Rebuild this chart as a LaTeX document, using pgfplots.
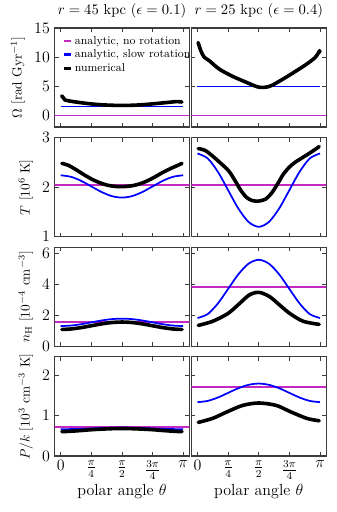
\documentclass[border=0pt]{standalone}
\usepackage{pgfplots}
\pgfplotsset{compat=1.18}
\usepgfplotslibrary{groupplots}
\definecolor{anamag}{RGB}{195,40,195}
\definecolor{anablue}{RGB}{0,0,255}
\definecolor{framegray}{RGB}{60,60,60}

\begin{document}
\begin{tikzpicture}
\begin{groupplot}[
  group style={group size=2 by 4, horizontal sep=1.5pt, vertical sep=7.9pt,
    x descriptions at=edge bottom, y descriptions at=edge left},
  scale only axis, width=101pt, height=74.25pt,
  xmin=-0.157, xmax=3.299,
  xtick={0,0.7854,1.5708,2.3562,3.1416},
  xticklabels={$0$,$\frac{\pi}{4}$,$\frac{\pi}{2}$,$\frac{3\pi}{4}$,$\pi$},
  tick align=inside, tick pos=both, major tick length=3pt,
  tick style={framegray, line width=0.6pt},
  axis line style={framegray, line width=0.9pt},
  ticklabel style={font=\large},
  ylabel style={font=\normalsize},
  xlabel={polar angle $\theta$},
  xlabel style={font=\large, yshift=3pt},
  title style={font=\fontsize{10.8}{12}\selectfont, yshift=-2pt},
  ana/.style={line width=1.3pt},
  num/.style={black, line width=2.7pt, smooth, line join=round, line cap=round},
]
% ---- Omega
\nextgroupplot[ymin=-2, ymax=15, ytick={0,5,10,15},
  ylabel={$\Omega$ [rad Gyr$^{-1}$]},
  title={$r=45$ kpc ($\epsilon=0.1$)},
  legend style={draw=none, fill=none, at={(0.03,0.975)}, anchor=north west,
    font=\fontsize{8.6}{10}\selectfont, cells={anchor=west}, row sep=-1.2pt},
  legend image code/.code={\draw[#1, line width=2pt, line cap=butt] (0pt,0pt) -- (5pt,0pt);}]
\coordinate (TL) at (rel axis cs:0,1);
\addplot[anamag, ana] coordinates {(-0.2,0) (3.4,0)};
\addlegendentry{analytic, no rotation}
\addplot[anablue, ana] coordinates {(0,1.55) (3.1416,1.55)};
\addlegendentry{analytic, slow rotation}
\addplot[num] coordinates {(0.026,3.35) (0.06,3.1) (0.11,2.65) (0.2,2.5) (0.45,2.25) (0.75,2.0) (1.0,1.85) (1.3,1.75) (1.571,1.72) (1.85,1.75) (2.12,1.85) (2.46,2.05) (2.8,2.27) (2.98,2.38) (3.107,2.3)};
\addlegendentry{numerical}

\nextgroupplot[ymin=-2, ymax=15, ytick={0,5,10,15},
  title={$r=25$ kpc ($\epsilon=0.4$)}]
\addplot[anamag, ana] coordinates {(-0.2,0) (3.4,0)};
\addplot[anablue, ana] coordinates {(0,4.95) (3.1416,4.95)};
\addplot[num] coordinates {(0.017,12.5) (0.086,11.1) (0.172,10.0) (0.301,9.4) (0.559,7.95) (0.904,6.7) (1.248,5.7) (1.575,4.85) (1.85,5.0) (2.195,6.25) (2.539,7.67) (2.797,8.8) (3.012,9.9) (3.098,10.7) (3.13,11.1) (3.14,10.9)};

% ---- T
\nextgroupplot[ymin=1, ymax=3, ytick={1,2,3},
  ylabel={$T$ [$10^6$ K]}]
\addplot[anamag, ana] coordinates {(-0.2,2.05) (3.4,2.05)};
\addplot[anablue, ana, smooth] coordinates {(0,2.240) (0.2618,2.210) (0.5236,2.128) (0.7854,2.015) (1.0472,1.903) (1.3090,1.820) (1.5708,1.790) (1.8326,1.820) (2.0944,1.903) (2.3562,2.015) (2.6180,2.128) (2.8798,2.210) (3.1416,2.240)};
\addplot[num] coordinates {(0.03,2.48) (0.2,2.44) (0.4,2.35) (0.6,2.25) (0.8,2.16) (1.0,2.09) (1.2,2.04) (1.4,2.015) (1.57,2.01) (1.8,2.025) (2.0,2.06) (2.2,2.12) (2.4,2.2) (2.6,2.29) (2.8,2.37) (3.0,2.44) (3.11,2.48)};

\nextgroupplot[ymin=1, ymax=3, ytick={1,2,3}]
\addplot[anamag, ana] coordinates {(-0.2,2.05) (3.4,2.05)};
\addplot[anablue, ana, smooth] coordinates {(0,2.680) (0.2618,2.581) (0.5236,2.310) (0.7854,1.940) (1.0472,1.570) (1.3090,1.299) (1.5708,1.200) (1.8326,1.299) (2.0944,1.570) (2.3562,1.940) (2.6180,2.310) (2.8798,2.581) (3.1416,2.680)};
\addplot[num] coordinates {(0.02,2.78) (0.2,2.74) (0.4,2.62) (0.6,2.48) (0.8,2.33) (0.95,2.15) (1.1,1.95) (1.25,1.80) (1.4,1.73) (1.57,1.72) (1.75,1.76) (1.9,1.88) (2.05,2.06) (2.2,2.26) (2.35,2.40) (2.5,2.50) (2.7,2.60) (2.9,2.70) (3.05,2.78) (3.12,2.82)};

% ---- n_H
\nextgroupplot[ymin=0, ymax=6.4, ytick={0,2,4,6},
  ylabel={$n_{\mathrm{H}}$ [$10^{-4}$ cm$^{-3}$]}]
\addplot[anamag, ana] coordinates {(-0.2,1.57) (3.4,1.57)};
\addplot[anablue, ana, smooth] coordinates {(0,1.310) (0.2618,1.342) (0.5236,1.430) (0.7854,1.550) (1.0472,1.670) (1.3090,1.758) (1.5708,1.790) (1.8326,1.758) (2.0944,1.670) (2.3562,1.550) (2.6180,1.430) (2.8798,1.342) (3.1416,1.310)};
\addplot[num] coordinates {(0.03,1.09) (0.2618,1.122) (0.5236,1.21) (0.7854,1.33) (1.0472,1.45) (1.3090,1.538) (1.5708,1.57) (1.8326,1.538) (2.0944,1.45) (2.3562,1.33) (2.6180,1.21) (2.8798,1.122) (3.11,1.09)};

\nextgroupplot[ymin=0, ymax=6.4, ytick={0,2,4,6}]
\addplot[anamag, ana] coordinates {(-0.2,3.82) (3.4,3.82)};
\addplot[anablue, ana, smooth] coordinates {(0,1.830) (0.2618,2.082) (0.5236,2.770) (0.7854,3.710) (1.0472,4.650) (1.3090,5.338) (1.5708,5.590) (1.8326,5.338) (2.0944,4.650) (2.3562,3.710) (2.6180,2.770) (2.8798,2.082) (3.1416,1.830)};
\addplot[num] coordinates {(0.02,1.35) (0.39,1.62) (0.78,2.12) (1.08,2.77) (1.33,3.32) (1.575,3.49) (1.85,3.21) (2.11,2.66) (2.37,2.12) (2.71,1.62) (3.12,1.42)};

% ---- P/k
\nextgroupplot[ymin=0, ymax=2.45, ytick={0,1,2},
  ylabel={$P/k$ [$10^3$ cm$^{-3}$ K]}]
\addplot[anamag, ana] coordinates {(-0.2,0.71) (3.4,0.71)};
\addplot[anablue, ana, smooth] coordinates {(0,0.660) (0.5236,0.670) (1.0472,0.690) (1.5708,0.700) (2.0944,0.690) (2.6180,0.670) (3.1416,0.660)};
\addplot[num] coordinates {(0.03,0.60) (0.4,0.62) (0.8,0.65) (1.2,0.67) (1.57,0.68) (1.95,0.67) (2.35,0.65) (2.75,0.62) (3.11,0.60)};

\nextgroupplot[ymin=0, ymax=2.45, ytick={0,1,2}]
\coordinate (BR) at (rel axis cs:1,0);
\addplot[anamag, ana] coordinates {(-0.2,1.71) (3.4,1.71)};
\addplot[anablue, ana, smooth] coordinates {(0,1.330) (0.2618,1.361) (0.5236,1.445) (0.7854,1.560) (1.0472,1.675) (1.3090,1.759) (1.5708,1.790) (1.8326,1.759) (2.0944,1.675) (2.3562,1.560) (2.6180,1.445) (2.8798,1.361) (3.1416,1.330)};
\addplot[num] coordinates {(0.02,0.83) (0.39,0.93) (0.78,1.10) (1.16,1.25) (1.57,1.31) (2.02,1.25) (2.37,1.10) (2.8,0.93) (3.12,0.87)};
\end{groupplot}
\pgfresetboundingbox
\path ([shift={(-40.9pt,21pt)}]TL) rectangle ([shift={(7.5pt,-42pt)}]BR);
\end{tikzpicture}
\end{document}
